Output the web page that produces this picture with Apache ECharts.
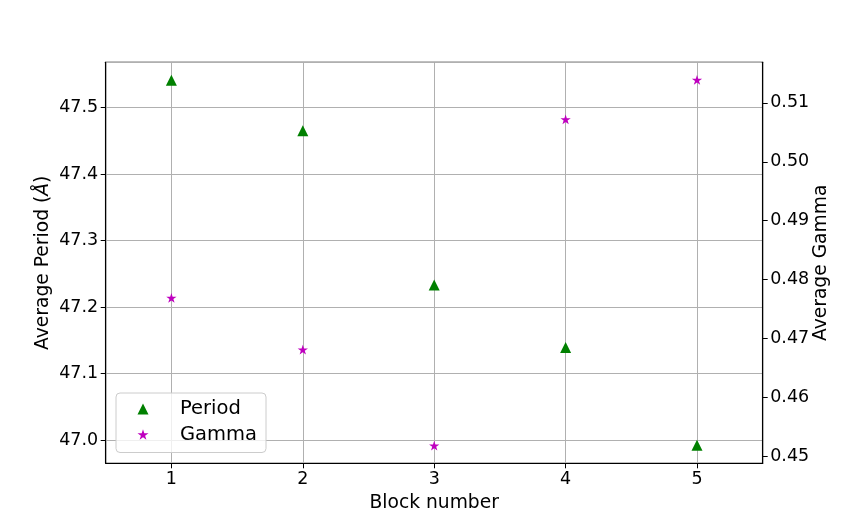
<!DOCTYPE html>
<html>
<head>
<meta charset="utf-8">
<script src="https://cdn.jsdelivr.net/npm/echarts@6/dist/echarts.min.js"></script>
<style>
html,body{margin:0;padding:0;background:#fff;}
#chart{width:847px;height:521px;}
</style>
</head>
<body>
<div id="chart"></div>
<script>
const blocks = [1, 2, 3, 4, 5];
const periodValues = [47.541, 47.465, 47.233, 47.139, 46.992];
const gammaValues = [0.4769, 0.4681, 0.4518, 0.5072, 0.5139];
const seriesNames = ['Period', 'Gamma'];
const xRange = [0.5, 5.5];
const periodRange = [46.965, 47.568];
const gammaRange = [0.4488, 0.5169];

const FONT = 'DejaVu Sans';
const STAR = 'path://M50 0 L61.23 34.55 L97.55 34.55 L68.17 55.9 L79.39 90.45 L50 69.1 L20.61 90.45 L31.83 55.9 L2.45 34.55 L38.77 34.55 Z';
const GREEN = '#008000';
const MAGENTA = '#bf00bf';

function near(v, step) { return Math.abs(v / step - Math.round(v / step)) < 1e-6; }

const chart = echarts.init(document.getElementById('chart'), null, {renderer: 'canvas'});
chart.setOption({
  animation: false,
  backgroundColor: '#fff',
  grid: {
    left: 105.7, right: 84.3, top: 62.3, bottom: 57.7,
    show: true, borderColor: '#000', borderWidth: 1.1, backgroundColor: 'transparent'
  },
  legend: {
    left: 116, top: 393,
    orient: 'vertical',
    itemWidth: 11, itemHeight: 11, itemGap: 5.5,
    padding: [6, 9, 8, 21.5],
    borderColor: '#cccccc', borderWidth: 1, borderRadius: 4,
    backgroundColor: 'rgba(255,255,255,0.8)',
    data: [
      {name: seriesNames[0], icon: 'triangle'},
      {name: seriesNames[1], icon: STAR}
    ],
    formatter: function (n) { return '{s|}' + n; },
    textStyle: {
      fontFamily: FONT, fontSize: 19.5, color: '#000',
      rich: {s: {width: 26.5}}
    }
  },
  xAxis: {
    type: 'value', min: xRange[0], max: xRange[1], splitNumber: 5,
    name: 'Block number', nameLocation: 'middle', nameGap: 30, nameMoveOverlap: false,
    nameTextStyle: {fontFamily: FONT, fontSize: 18.7, color: '#000'},
    axisLine: {show: true, onZero: false, lineStyle: {color: '#000', width: 1.1}},
    axisTick: {show: true, length: 5, lineStyle: {color: '#000', width: 1}},
    axisLabel: {
      margin: 7, fontFamily: FONT, fontSize: 17.5, color: '#000',
      showMinLabel: false, showMaxLabel: false,
      formatter: function (v) { return near(v, 1) ? String(Math.round(v)) : ''; }
    },
    splitLine: {show: true, lineStyle: {color: '#b0b0b0', width: 1}}
  },
  yAxis: [
    {
      type: 'value', position: 'left', min: periodRange[0], max: periodRange[1], splitNumber: 5,
      name: 'Average Period ({i|Å})', nameLocation: 'middle', nameGap: 53, nameRotate: 90,
      nameMoveOverlap: false,
      nameTextStyle: {fontFamily: FONT, fontSize: 18.7, color: '#000',
        rich: {i: {fontFamily: FONT, fontSize: 18.7, fontStyle: 'italic', color: '#000'}}},
      axisLine: {show: true, onZero: false, lineStyle: {color: '#000', width: 1.1}},
      axisTick: {show: true, length: 5, lineStyle: {color: '#000', width: 1}},
      axisLabel: {
        margin: 7.5, fontFamily: FONT, fontSize: 17.5, color: '#000',
        showMinLabel: false, showMaxLabel: false,
        formatter: function (v) { return near(v, 0.1) ? v.toFixed(1) : ''; }
      },
      splitLine: {show: true, lineStyle: {color: '#b0b0b0', width: 1}}
    },
    {
      type: 'value', position: 'right', min: gammaRange[0], max: gammaRange[1], splitNumber: 5,
      name: 'Average Gamma', nameLocation: 'middle', nameGap: 49, nameRotate: 90,
      nameMoveOverlap: false,
      nameTextStyle: {fontFamily: FONT, fontSize: 18.7, color: '#000'},
      axisLine: {show: true, onZero: false, lineStyle: {color: '#000', width: 1.1}},
      axisTick: {show: true, length: 5, lineStyle: {color: '#000', width: 1}},
      axisLabel: {
        margin: 7.5, fontFamily: FONT, fontSize: 17.5, color: '#000',
        showMinLabel: false, showMaxLabel: false,
        formatter: function (v) { return near(v, 0.01) ? v.toFixed(2) : ''; }
      },
      splitLine: {show: false}
    }
  ],
  series: [
    {
      name: seriesNames[0], type: 'scatter', yAxisIndex: 0,
      symbol: 'triangle', symbolSize: 11,
      itemStyle: {color: GREEN, opacity: 1},
      data: blocks.map((b, i) => [b, periodValues[i]]),
      z: 3
    },
    {
      name: seriesNames[1], type: 'scatter', yAxisIndex: 1,
      symbol: STAR, symbolSize: [10.3, 9.8],
      itemStyle: {color: MAGENTA, opacity: 1},
      data: blocks.map((b, i) => [b, gammaValues[i]]),
      z: 3
    }
  ]
});
</script>
</body>
</html>
